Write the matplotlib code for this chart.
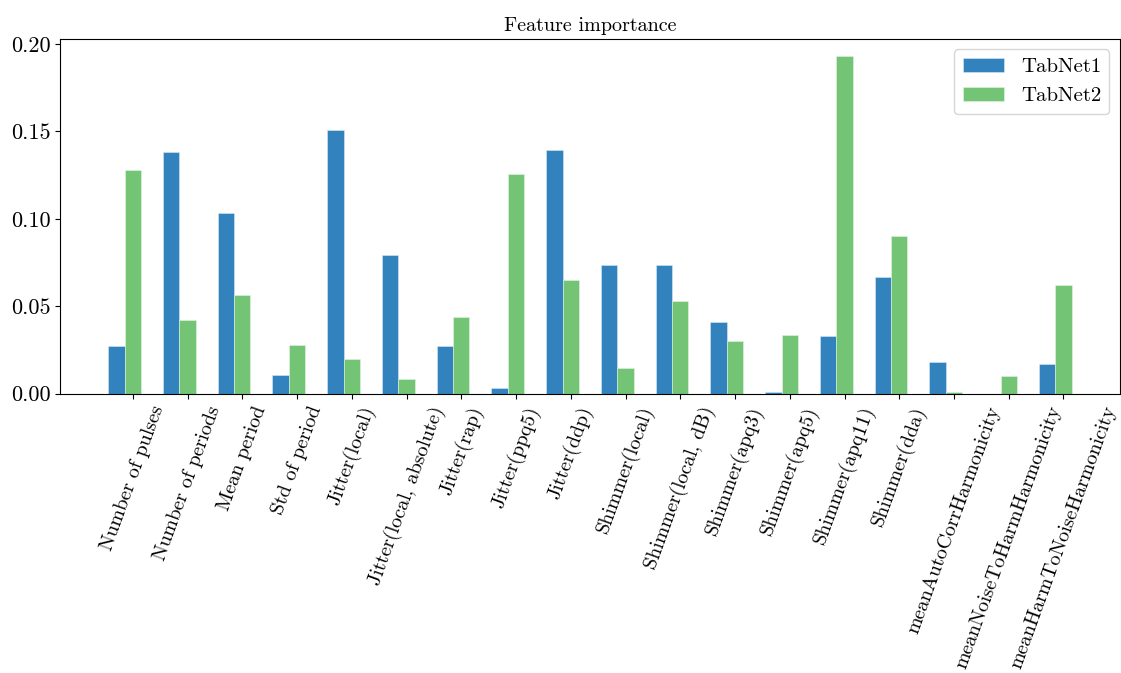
import numpy as np
import matplotlib
matplotlib.use("Agg")
from matplotlib import pyplot as plt

plt.rcParams['font.family'] = 'serif'
plt.rcParams['font.serif'] = ['cmr10', 'DejaVu Serif']
plt.rcParams['mathtext.fontset'] = 'cm'
plt.rcParams['axes.formatter.use_mathtext'] = True
plt.rcParams['font.size'] = 16

features = ['Number of pulses', 'Number of periods', 'Mean period', 'Std of period',
            'Jitter(local)', 'Jitter(local, absolute)', 'Jitter(rap)', 'Jitter(ppq5)',
            'Jitter(ddp)', 'Shimmer(local)', 'Shimmer(local, dB)', 'Shimmer(apq3)',
            'Shimmer(apq5)', 'Shimmer(apq11)', 'Shimmer(dda)', 'meanAutoCorrHarmonicity',
            'meanNoiseToHarmHarmonicity', 'meanHarmToNoiseHarmonicity']

tabnet1 = [0.027, 0.138, 0.1033, 0.0106, 0.151, 0.0792, 0.0272, 0.0033, 0.1393,
           0.0736, 0.0736, 0.0408, 0.0012, 0.0328, 0.0665, 0.0179, 0.0, 0.0171]
tabnet2 = [0.1276, 0.042, 0.0565, 0.0277, 0.0198, 0.0083, 0.0439, 0.1258, 0.0649,
           0.0146, 0.0528, 0.0301, 0.0335, 0.1931, 0.09, 0.0008, 0.0102, 0.0619]

x = np.arange(len(features))
w = 0.3

fig = plt.figure(figsize=(11.21, 6.73), dpi=100)
ax = fig.add_axes([0.0535, 0.415, 0.9455, 0.527])

ax.bar(x - w, tabnet1, w, color='#3182bd', edgecolor='#dbe8f3', linewidth=0.4, label='TabNet1')
ax.bar(x, tabnet2, w, color='#74c476', edgecolor='#e3f3e3', linewidth=0.4, label='TabNet2')

ax.set_xticks(x)
ax.set_xticklabels(features, rotation=70, fontsize=14.5)
ax.set_yticks([0.0, 0.05, 0.10, 0.15, 0.20])
ax.set_yticklabels(['0.00', '0.05', '0.10', '0.15', '0.20'])
ax.set_title('Feature importance', fontsize=14.5)
ax.legend(loc='upper right', fontsize=15)

fig.savefig('out.png', dpi=100)
